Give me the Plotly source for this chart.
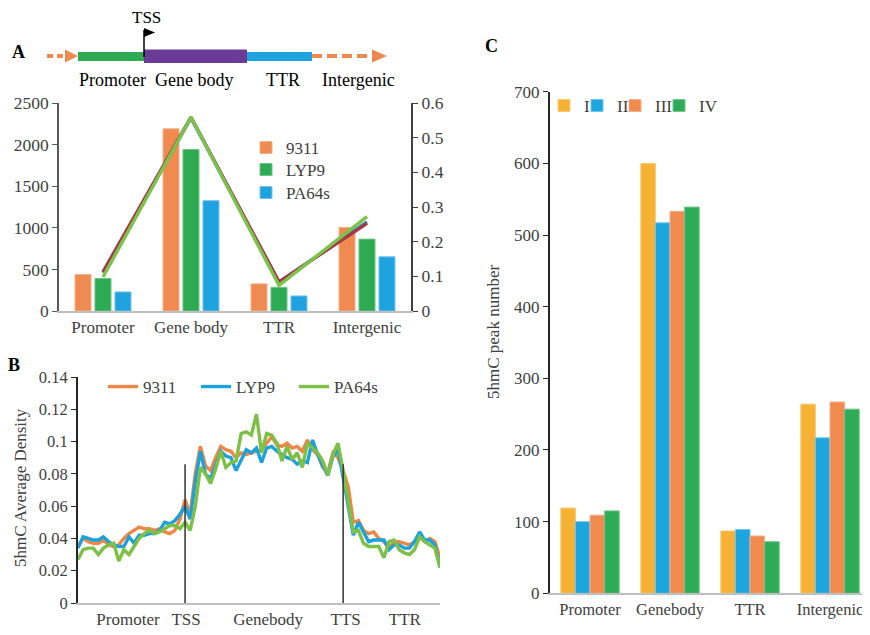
import plotly.graph_objects as go

W, H = 870, 635
OX, OY = 8, 8          # page body offset compensation
FONT = "Liberation Serif"
TXT = "#404040"

# ---------------- Panel A data ----------------
regions_a = ["Promoter", "Gene body", "TTR", "Intergenic"]
peaks_9311 = [438, 2190, 326, 1005]
peaks_lyp9 = [390, 1941, 285, 864]
peaks_pa64s = [229, 1326, 181, 651]
ratio_line_blue = [0.110, 0.557, 0.083, 0.257]
ratio_line_red = [0.113, 0.559, 0.084, 0.253]
ratio_line_green = [0.098, 0.559, 0.074, 0.272]
ticks_a_left = [0, 500, 1000, 1500, 2000, 2500]
ticks_a_right = [0, 0.1, 0.2, 0.3, 0.4, 0.5, 0.6]

# ---------------- Panel B data ----------------
bins_b = list(range(72))
dens_9311 = [0.035, 0.040, 0.038, 0.037, 0.037, 0.039, 0.036, 0.035, 0.036, 0.040,
             0.043, 0.045, 0.047, 0.046, 0.046, 0.045, 0.046, 0.044, 0.043, 0.045,
             0.052, 0.064, 0.055, 0.080, 0.097, 0.085, 0.082, 0.090, 0.097, 0.095,
             0.094, 0.090, 0.093, 0.092, 0.093, 0.094, 0.095, 0.099, 0.103, 0.098,
             0.097, 0.099, 0.096, 0.097, 0.094, 0.101, 0.095, 0.092, 0.084, 0.081,
             0.093, 0.090, 0.082, 0.072, 0.050, 0.051, 0.045, 0.043, 0.044, 0.040,
             0.038, 0.034, 0.038, 0.038, 0.037, 0.036, 0.038, 0.041, 0.038, 0.040,
             0.038, 0.028]
dens_lyp9 = [0.034, 0.041, 0.040, 0.039, 0.039, 0.041, 0.038, 0.036, 0.035, 0.035,
             0.041, 0.037, 0.042, 0.042, 0.043, 0.043, 0.045, 0.050, 0.049, 0.051,
             0.055, 0.060, 0.052, 0.075, 0.094, 0.080, 0.077, 0.086, 0.094, 0.091,
             0.090, 0.082, 0.088, 0.095, 0.093, 0.096, 0.087, 0.096, 0.097, 0.094,
             0.092, 0.090, 0.089, 0.086, 0.088, 0.087, 0.101, 0.092, 0.085, 0.079,
             0.091, 0.095, 0.078, 0.060, 0.042, 0.050, 0.044, 0.038, 0.039, 0.039,
             0.039, 0.033, 0.036, 0.036, 0.034, 0.034, 0.038, 0.044, 0.039, 0.039,
             0.036, 0.022]
dens_pa64s = [0.027, 0.033, 0.034, 0.034, 0.030, 0.034, 0.036, 0.037, 0.026, 0.033,
              0.030, 0.035, 0.040, 0.043, 0.045, 0.043, 0.044, 0.046, 0.048, 0.048,
              0.046, 0.050, 0.045, 0.060, 0.084, 0.080, 0.074, 0.083, 0.094, 0.084,
              0.087, 0.088, 0.105, 0.106, 0.104, 0.117, 0.093, 0.105, 0.104, 0.099,
              0.088, 0.097, 0.089, 0.093, 0.084, 0.099, 0.096, 0.093, 0.088, 0.079,
              0.092, 0.099, 0.082, 0.062, 0.044, 0.045, 0.037, 0.035, 0.035, 0.035,
              0.028, 0.038, 0.039, 0.033, 0.031, 0.030, 0.033, 0.041, 0.038, 0.036,
              0.034, 0.022]
labels_b = ["Promoter", "TSS", "Genebody", "TTS", "TTR"]
label_bins_b = [9.8, 21.2, 37.3, 52.5, 64.1]
boundary_bins_b = [21, 52]
boundary_height_b = 0.086
ticks_b = [0, 0.02, 0.04, 0.06, 0.08, 0.1, 0.12, 0.14]
ticklabels_b = ["0", "0.02", "0.04", "0.06", "0.08", "0.1", "0.12", "0.14"]

# ---------------- Panel C data ----------------
regions_c = ["Promoter", "Genebody", "TTR", "Intergenic"]
groups_c = ["I", "II", "III", "IV"]
peaks_c = {
    "I": [119, 600, 87, 264],
    "II": [100, 517, 89, 217],
    "III": [109, 533, 80, 267],
    "IV": [115, 539, 72, 257],
}
ticks_c = [0, 100, 200, 300, 400, 500, 600, 700]

# ---------------- helpers (reference pixel -> paper) ----------------
def px(x):
    return (x - OX) / W

def py(y):
    return 1 - (y - OY) / H

fig = go.Figure()

# ---- Panel A bars ----
col_a = {"9311": "#EF8A50", "LYP9": "#2EAA52", "PA64s": "#1EA3DE"}
edge_a = {"9311": "#F5B08A", "LYP9": "#6CC489", "PA64s": "#72C3EA"}
step_a, bw_a = 0.227, 0.182
for k, (nm, vals) in enumerate([("9311", peaks_9311), ("LYP9", peaks_lyp9), ("PA64s", peaks_pa64s)]):
    fig.add_trace(go.Bar(
        x=regions_a, y=vals, name=nm, xaxis="x", yaxis="y",
        width=bw_a, offset=(k - 1) * step_a - bw_a / 2,
        marker=dict(color=col_a[nm], line=dict(color=edge_a[nm], width=1)),
        legend=f"legend{'' if k == 0 else k + 1}",
    ))
for vals, c in [(ratio_line_blue, "#1EA3DE"), (ratio_line_red, "#A33A48"), (ratio_line_green, "#7DC24B")]:
    fig.add_trace(go.Scatter(
        x=regions_a, y=vals, mode="lines", xaxis="x", yaxis="y2",
        line=dict(color=c, width=3.4), showlegend=False,
    ))

# ---- Panel B lines ----
b_series = [("9311", dens_9311, "#EE8646"),
            ("LYP9", dens_lyp9, "#1BA1DC"),
            ("PA64s", dens_pa64s, "#7CC146")]
for k, (nm, vals, c) in enumerate(b_series):
    fig.add_trace(go.Scatter(
        x=bins_b, y=vals, mode="lines", name=nm, xaxis="x2", yaxis="y3",
        line=dict(color=c, width=3.4), legend=f"legend{4 + k}",
    ))

# ---- Panel C bars ----
col_c = {"I": "#F5B234", "II": "#1DA5DE", "III": "#EF8B4F", "IV": "#2FAB57"}
edge_c = {"I": "#F8CB78", "II": "#6FC6EC", "III": "#F4B08A", "IV": "#72C58E"}
bw_c = 0.1825
for k, g in enumerate(groups_c):
    fig.add_trace(go.Bar(
        x=regions_c, y=peaks_c[g], name=g, xaxis="x3", yaxis="y4",
        width=bw_c, offset=(k - 2) * bw_c,
        marker=dict(color=col_c[g], line=dict(color=edge_c[g], width=1)),
        legend=f"legend{7 + k}",
    ))

legfont = dict(family=FONT, size=17, color=TXT)

layout = dict(
    width=W, height=H, margin=dict(l=0, r=0, t=0, b=0, autoexpand=False),
    paper_bgcolor="white", plot_bgcolor="rgba(0,0,0,0)",
    barmode="overlay", showlegend=True,
    font=dict(family=FONT, color=TXT),
    # Panel A
    xaxis=dict(domain=[px(59), px(411)], anchor="y", type="category",
               showline=True, linecolor="#BFBFBF", linewidth=1.5, ticks="",
               tickfont=dict(family=FONT, size=17, color=TXT), showgrid=False,
               range=[-0.5, 3.5], automargin=False),
    yaxis=dict(domain=[py(311), py(103)], anchor="x", range=[0, 2500],
               tickvals=ticks_a_left, showline=True, linecolor="#595959", linewidth=1.5,
               ticks="outside", ticklen=5, tickcolor="#595959", showgrid=False,
               tickfont=dict(family=FONT, size=17.5, color=TXT), zeroline=False, automargin=False),
    yaxis2=dict(overlaying="y", side="right", anchor="x", range=[0, 0.6],
                tickvals=ticks_a_right, ticktext=["0"] + [f"{v:.1f}" for v in ticks_a_right[1:]],
                showline=True, linecolor="#404040", linewidth=2,
                ticks="outside", ticklen=5, tickcolor="#404040", showgrid=False,
                tickfont=dict(family=FONT, size=17.5, color=TXT), zeroline=False, automargin=False),
    # Panel B
    xaxis2=dict(domain=[px(78), px(440)], anchor="y3", range=[0, 71],
                showline=True, linecolor="#BFBFBF", linewidth=1.5, ticks="",
                tickvals=label_bins_b, ticktext=labels_b,
                tickfont=dict(family=FONT, size=17, color=TXT), showgrid=False,
                zeroline=False, automargin=False),
    yaxis3=dict(domain=[py(603), py(377)], anchor="x2", range=[0, 0.14],
                tickvals=ticks_b, ticktext=ticklabels_b,
                showline=True, linecolor="#262626", linewidth=2,
                ticks="outside", ticklen=5, tickcolor="#262626", showgrid=False,
                tickfont=dict(family=FONT, size=16.5, color=TXT), zeroline=False,
                automargin=False),
    # Panel C
    xaxis3=dict(domain=[px(550), 1.0], anchor="y4", type="category",
                showline=True, linecolor="#BFBFBF", linewidth=1.5, ticks="",
                tickfont=dict(family=FONT, size=16.5, color=TXT), showgrid=False,
                range=[-0.5, 3.5 + 8 / 80.3], automargin=False),
    yaxis4=dict(domain=[py(593.3), py(91.7)], anchor="x3", range=[0, 700],
                tickvals=ticks_c, showline=True, linecolor="#262626", linewidth=2,
                ticks="outside", ticklen=5, tickcolor="#262626", showgrid=False,
                tickfont=dict(family=FONT, size=17, color=TXT), zeroline=False,
                automargin=False),
    # diagram canvas in reference pixel units
    xaxis4=dict(domain=[0, 1], anchor="y5", range=[OX, OX + W], visible=False, fixedrange=True),
    yaxis5=dict(domain=[0, 1], anchor="x4", range=[OY + H, OY], visible=False, fixedrange=True),
)

def leg(x_item, y_center):
    return dict(x=px(x_item), y=py(y_center), xanchor="left", yanchor="middle",
                font=legfont, bgcolor="rgba(0,0,0,0)", itemwidth=30, borderwidth=0)

# A legends (vertical stack, one per item)
for i, yc in enumerate([148, 170, 193]):
    layout["legend" if i == 0 else f"legend{i + 1}"] = leg(246, yc)
# B legends: texts at 143, 236, 334
for i, xt in enumerate([143, 236, 334]):
    layout[f"legend{4 + i}"] = leg(xt - 40, 387)
# C legends: texts near 581, 614, 652, 696
for i, xt in enumerate([581, 614, 652, 696]):
    layout[f"legend{7 + i}"] = leg(xt - 37, 106)
fig.update_layout(**layout)

# ---- shapes: B boundary lines ----
shapes = []
for b in boundary_bins_b:
    shapes.append(dict(type="line", xref="x2", yref="y3", x0=b, x1=b, y0=0, y1=boundary_height_b,
                       line=dict(color="#333333", width=1.5)))

# ---- diagram (reference pixel canvas) ----
orange = "#F0894F"
shapes += [
    dict(type="line", xref="x4", yref="y5", x0=47, x1=66, y0=56, y1=56,
         line=dict(color=orange, width=4, dash="6px,4px")),
    dict(type="path", xref="x4", yref="y5", path="M 65 49.5 L 78 56 L 65 62.5 Z",
         fillcolor=orange, line=dict(width=0)),
    dict(type="rect", xref="x4", yref="y5", x0=78, x1=144, y0=52, y1=61,
         fillcolor="#2EAA52", line=dict(width=0)),
    dict(type="rect", xref="x4", yref="y5", x0=144, x1=247, y0=49.5, y1=63,
         fillcolor="#6A3C97", line=dict(width=0)),
    dict(type="rect", xref="x4", yref="y5", x0=247, x1=312, y0=52, y1=61,
         fillcolor="#1EA3DE", line=dict(width=0)),
    dict(type="line", xref="x4", yref="y5", x0=312, x1=372, y0=56, y1=56,
         line=dict(color=orange, width=4, dash="10px,5px")),
    dict(type="path", xref="x4", yref="y5", path="M 372 49.5 L 387 56 L 372 62.5 Z",
         fillcolor=orange, line=dict(width=0)),
    dict(type="line", xref="x4", yref="y5", x0=144, x1=144, y0=57, y1=30,
         line=dict(color="black", width=1.5)),
    dict(type="path", xref="x4", yref="y5", path="M 144 28 L 155 32.5 L 144 37 Z",
         fillcolor="black", line=dict(width=0)),
]
fig.update_layout(shapes=shapes)

ann = []
def txt(x, y, s, size=16, bold=False, color=TXT, angle=0):
    ann.append(dict(xref="paper", yref="paper", x=px(x), y=py(y), text=f"<b>{s}</b>" if bold else s,
                    showarrow=False, xanchor="center", yanchor="middle", textangle=angle,
                    font=dict(family=FONT, size=size, color=color)))

txt(146, 17, "TSS", 17, color="black")
txt(112, 80, "Promoter", 18, color="black")
txt(194, 80, "Gene body", 18, color="black")
txt(283, 80, "TTR", 18, color="black")
txt(358, 80, "Intergenic", 18, color="black")
txt(18, 52, "A", 18, bold=True, color="black")
txt(14, 365, "B", 18, bold=True, color="black")
txt(491, 46, "C", 18, bold=True, color="black")
txt(20, 488, "5hmC Average Density", 17, angle=-90)
txt(493, 332, "5hmC peak number", 17, angle=-90)
fig.update_layout(annotations=ann)

fig.write_html("out.html")
